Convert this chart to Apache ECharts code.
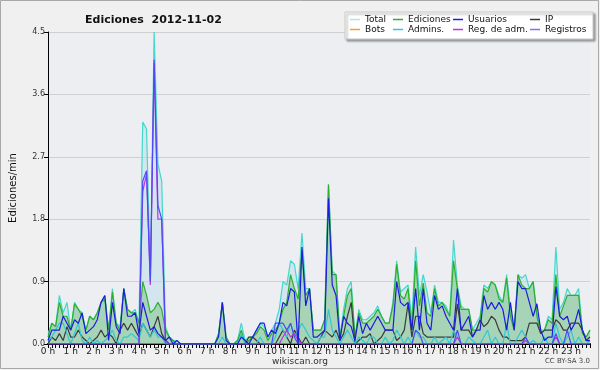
<!DOCTYPE html>
<html>
<head>
<meta charset="utf-8">
<script src="https://cdn.jsdelivr.net/npm/echarts@6/dist/echarts.min.js"></script>
<style>
  html, body { margin: 0; padding: 0; background: #f0f0f0; }
  #chart { width: 600px; height: 370px; }
</style>
</head>
<body>
<div id="chart"></div>
<script>
// one value every 10 minutes, 6 per hour (one line per hour)
const hourLabels = ['0 h', '1 h', '2 h', '3 h', '4 h', '5 h', '6 h', '7 h', '8 h', '9 h', '10 h', '11 h',
  '12 h', '13 h', '14 h', '15 h', '16 h', '17 h', '18 h', '19 h', '20 h', '21 h', '22 h', '23 h'];

const total = [
  0.15, 0.3, 0.25, 0.7, 0.45, 0.6,
  0.2, 0.6, 0.5, 0.45, 0.2, 0.4,
  0.35, 0.45, 0.6, 0.7, 0.2, 0.8,
  0.3, 0.25, 0.8, 0.5, 0.45, 0.5,
  0.3, 3.2, 3.1, 1.0, 4.5, 2.6,
  2.35, 0.25, 0.1, 0.05, 0.05, 0,
  0, 0, 0, 0, 0, 0,
  0, 0, 0, 0.15, 0.6, 0.1,
  0, 0, 0.05, 0.3, 0.05, 0.1,
  0.1, 0.2, 0.3, 0.25, 0.1, 0.2,
  0.3, 0.5, 0.9, 0.85, 1.2, 1.15,
  0.8, 1.6, 0.8, 0.8, 0.2, 0.2,
  0.2, 0.35, 2.3, 1.05, 1.0, 0.1,
  0.5, 0.8, 0.9, 0.1, 0.5, 0.35,
  0.35, 0.4, 0.45, 0.55, 0.4, 0.3,
  0.3, 0.6, 1.2, 0.75, 0.8, 0.85,
  0.35, 1.4, 0.7, 1.0, 0.75, 0.45,
  0.85, 0.6, 0.6, 0.55, 0.4, 1.5,
  0.85, 0.55, 0.5, 0.5, 0.2, 0.3,
  0.4, 0.85, 0.8, 0.9, 0.85, 0.7,
  0.6, 1.0, 0.5, 0.2, 1.0, 0.95,
  1.0, 0.8, 0.9, 0.45, 0.2, 0.2,
  0.4, 0.35, 1.4, 0.5, 0.6, 0.8,
  0.7, 0.7, 0.8, 0.2, 0.1, 0.2
];

const ediciones = [
  0.1, 0.3, 0.25, 0.6, 0.4, 0.4,
  0.2, 0.58, 0.5, 0.4, 0.2, 0.4,
  0.35, 0.45, 0.6, 0.65, 0.2, 0.75,
  0.3, 0.2, 0.8, 0.5, 0.45, 0.45,
  0.3, 0.9, 0.7, 0.45, 0.5, 0.6,
  0.5, 0.2, 0.1, 0.05, 0, 0,
  0, 0, 0, 0, 0, 0,
  0, 0, 0, 0.15, 0.6, 0.1,
  0, 0, 0.05, 0.2, 0, 0.05,
  0.1, 0.15, 0.25, 0.2, 0.05, 0.15,
  0.2, 0.3, 0.5, 0.6, 1.0, 0.8,
  0.65, 1.35, 0.7, 0.8, 0.2, 0.2,
  0.2, 0.35, 2.3, 1.0, 1.0, 0.1,
  0.4, 0.7, 0.8, 0.1, 0.45, 0.3,
  0.3, 0.35, 0.4, 0.5, 0.4, 0.3,
  0.3, 0.55, 1.15, 0.7, 0.65, 0.8,
  0.2, 1.2, 0.55, 0.88, 0.45, 0.4,
  0.8, 0.55, 0.6, 0.5, 0.4, 1.2,
  0.8, 0.5, 0.5, 0.5, 0.2, 0.2,
  0.35, 0.8, 0.75, 0.9, 0.85, 0.65,
  0.6, 0.95, 0.4, 0.2, 1.0, 0.85,
  0.8, 0.8, 0.9, 0.4, 0.15, 0.2,
  0.35, 0.3, 1.0, 0.4, 0.55, 0.7,
  0.7, 0.7, 0.7, 0.15, 0.1, 0.2
];

const usuarios = [
  0.05, 0.2, 0.2, 0.2, 0.4, 0.3,
  0.2, 0.35, 0.3, 0.45, 0.15, 0.2,
  0.25, 0.35, 0.6, 0.7, 0.05, 0.6,
  0.25, 0.15, 0.8, 0.4, 0.4, 0.45,
  0.15, 0.6, 0.4, 0.2, 0.25, 0.15,
  0.1, 0.05, 0.1, 0, 0.05, 0,
  0, 0, 0, 0, 0, 0,
  0, 0, 0, 0.1, 0.6, 0.05,
  0, 0, 0, 0.1, 0.05, 0,
  0.1, 0.2, 0.3, 0.3, 0.1, 0.2,
  0.15, 0.3, 0.6, 0.55, 0.8, 0.75,
  0, 1.4, 0.55, 0.8, 0.1, 0.1,
  0.15, 0.2, 2.1, 0.85, 0.7, 0.05,
  0.4, 0.3, 0.25, 0.05, 0.4, 0.15,
  0.3, 0.2, 0.3, 0.4, 0.3, 0.2,
  0.2, 0.2, 0.9, 0.6, 0.55, 0.6,
  0.2, 0.8, 0.2, 0.8, 0.3, 0.2,
  0.7, 0.5, 0.55, 0.4, 0.3, 0.2,
  0.8, 0.2, 0.3, 0.4, 0.1, 0.2,
  0.2, 0.7, 0.5, 0.6, 0.5, 0.6,
  0.5, 0.2, 0.6, 0.2, 0.9, 0.8,
  0.8, 0.6, 0.4, 0.58, 0.2, 0.05,
  0.1, 0.1, 0.83, 0.4, 0.35, 0.4,
  0.2, 0.3, 0.5, 0.2, 0.05, 0.05
];

const ip = [
  0, 0.1, 0.05, 0.15, 0.05, 0.25,
  0.1, 0.1, 0.2, 0.1, 0.05, 0,
  0.05, 0.1, 0.2, 0.1, 0.15, 0.1,
  0, 0.2, 0.3, 0.2, 0.3, 0.2,
  0.1, 0.3, 0.2, 0.1, 0.25, 0.4,
  0.15, 0.05, 0, 0, 0, 0,
  0, 0, 0, 0, 0, 0,
  0, 0, 0, 0, 0, 0,
  0, 0, 0, 0, 0, 0.1,
  0.1, 0.05, 0, 0, 0, 0,
  0, 0.1, 0.2, 0.1, 0, 0.2,
  0.1, 0, 0.1, 0, 0, 0,
  0.1, 0.2, 0.15, 0.1, 0.2, 0.05,
  0.15, 0.4, 0.6, 0, 0.05, 0.1,
  0.1, 0.15, 0, 0.05, 0.1, 0.2,
  0.2, 0.2, 0.05, 0.1, 0.2, 0.58,
  0.1, 0.4, 0.4, 0.15, 0.1, 0.1,
  0.1, 0.1, 0.1, 0.1, 0.1, 0.1,
  0.58, 0.2, 0.2, 0.2, 0.1, 0.2,
  0.35, 0.25, 0.3, 0.4, 0.35, 0.2,
  0.1, 0.1, 0.05, 0.05, 0.05, 0.05,
  0.1, 0.3, 0.3, 0.3, 0.15, 0.2,
  0.2, 0.2, 0.35, 0.3, 0.2, 0.2,
  0.3, 0.3, 0.3, 0.2, 0.05, 0.1
];

const admins = [
  0.05, 0.1, 0.2, 0.3, 0.3, 0.15,
  0, 0.15, 0.3, 0.05, 0, 0.1,
  0, 0.05, 0, 0.05, 0.1, 0.2,
  0.05, 0, 0.1, 0.1, 0.15, 0.1,
  0.05, 0.3, 0.2, 0.1, 0.2, 0.1,
  0.1, 0, 0, 0, 0, 0,
  0, 0, 0, 0, 0, 0,
  0, 0, 0, 0, 0.1, 0,
  0, 0, 0, 0.15, 0, 0,
  0, 0, 0.1, 0, 0, 0,
  0.1, 0.3, 0.2, 0.1, 0.3, 0.1,
  0.2, 0.3, 0.2, 0.1, 0.05, 0,
  0.1, 0.1, 0.5, 0.2, 0.1, 0,
  0.1, 0.2, 0.1, 0, 0.1, 0.05,
  0, 0.1, 0.1, 0, 0, 0.1,
  0, 0.05, 0.2, 0.1, 0, 0.1,
  0, 0.2, 0.1, 0.1, 0, 0,
  0.1, 0, 0.05, 0.1, 0, 0.2,
  0.1, 0, 0, 0.1, 0.05, 0,
  0, 0.1, 0.2, 0, 0.1, 0,
  0, 0.3, 0, 0, 0.1, 0.2,
  0.1, 0, 0.05, 0, 0, 0.1,
  0, 0, 0.3, 0.1, 0, 0.1,
  0.2, 0, 0.1, 0, 0, 0.05
];

const regAdm = [
  0, 0, 0, 0, 0, 0,
  0, 0, 0, 0, 0, 0,
  0, 0, 0, 0, 0, 0,
  0, 0, 0, 0, 0, 0,
  0, 2.2, 2.45, 0.85, 4.05, 1.8,
  1.8, 0, 0, 0, 0, 0,
  0, 0, 0, 0, 0, 0,
  0, 0, 0, 0, 0, 0,
  0, 0, 0, 0, 0, 0,
  0, 0, 0, 0, 0, 0,
  0, 0, 0.1, 0.2, 0.1, 0.15,
  0.05, 0, 0, 0, 0, 0,
  0, 0, 0, 0, 0, 0,
  0, 0, 0, 0, 0, 0,
  0, 0, 0, 0, 0, 0,
  0, 0, 0, 0, 0, 0,
  0, 0, 0, 0, 0, 0,
  0, 0, 0, 0, 0, 0,
  0.1, 0, 0, 0, 0, 0,
  0, 0, 0, 0, 0, 0,
  0, 0, 0, 0, 0, 0,
  0.05, 0, 0, 0, 0, 0,
  0, 0, 0.1, 0, 0, 0,
  0, 0, 0, 0, 0, 0
];

const registros = [
  0, 0, 0, 0, 0, 0,
  0, 0, 0, 0, 0, 0,
  0, 0, 0, 0, 0, 0,
  0, 0, 0, 0, 0, 0,
  0, 2.35, 2.5, 0.9, 4.1, 2.0,
  1.8, 0.05, 0, 0, 0, 0,
  0, 0, 0, 0, 0, 0,
  0, 0, 0, 0, 0, 0,
  0, 0, 0, 0, 0, 0,
  0, 0, 0, 0, 0, 0,
  0.3, 0.3, 0.3, 0.2, 0.3, 0.1,
  0, 0, 0, 0, 0, 0,
  0, 0, 0, 0, 0, 0,
  0, 0, 0, 0, 0, 0,
  0, 0, 0, 0, 0, 0,
  0, 0, 0, 0, 0, 0,
  0, 0.2, 0.15, 0, 0, 0,
  0, 0, 0, 0, 0, 0,
  0.2, 0, 0, 0, 0, 0,
  0, 0, 0, 0, 0, 0,
  0, 0, 0, 0, 0, 0,
  0.1, 0, 0, 0, 0, 0,
  0, 0, 0.15, 0, 0, 0.2,
  0, 0, 0, 0, 0, 0
];

const bots = [];

const slots = [];
for (let h = 0; h < 24; h++) {
  for (let m = 0; m < 60; m += 10) slots.push(h + ':' + (m < 10 ? '0' : '') + m);
}

const FONT = 'DejaVu Sans';

const lineSeries = (name, data, color, z) => ({
  name, type: 'line', data, symbol: 'none', z,
  lineStyle: { color, width: 1.2 },
  itemStyle: { color },
  emphasis: { disabled: true }
});

const legendBox = (left, names) => ({
  left, top: 15, orient: 'vertical', itemGap: 1, z: 10, padding: 0,
  itemWidth: 10, itemHeight: 1.5, icon: 'rect',
  selectedMode: false,
  textStyle: { fontFamily: FONT, fontSize: 9, color: '#111' },
  data: names
});

const chart = echarts.init(document.getElementById('chart'), null, { renderer: 'canvas' });

chart.setOption({
  backgroundColor: '#f0f0f0',
  animation: false,
  title: {
    text: 'Ediciones  2012-11-02',
    left: 80, top: 10,
    textStyle: { fontFamily: FONT, fontSize: 11, fontWeight: 'bold', color: '#111' }
  },
  legend: [
    legendBox(350, [{ name: 'Total', itemStyle: { color: '#aee6e0' } }, { name: 'Bots' }]),
    legendBox(393, ['Ediciones', 'Admins.']),
    legendBox(453, ['Usuarios', 'Reg. de adm.']),
    legendBox(530, ['IP', { name: 'Registros', itemStyle: { color: '#7a7af0' } }])
  ],
  graphic: [
    {
      type: 'rect', z: -1, silent: true,
      shape: { x: 0.5, y: 0.5, width: 598, height: 368 },
      style: { fill: 'none', stroke: '#a8a8a8', lineWidth: 1 }
    },
    {
      type: 'rect', z: 1, silent: true,
      shape: { x: 345, y: 12, width: 248, height: 27 },
      style: { fill: '#ffffff', stroke: '#c8c8c8', lineWidth: 1,
        shadowColor: 'rgba(0,0,0,0.35)', shadowOffsetX: 2, shadowOffsetY: 2, shadowBlur: 2 }
    },
    {
      type: 'text', left: 'center', top: 357, silent: true,
      style: { text: 'wikiscan.org', font: '9px "DejaVu Sans"', fill: '#333' }
    },
    {
      type: 'text', right: 10, top: 358, silent: true,
      style: { text: 'CC BY-SA 3.0', font: '7px "DejaVu Sans"', fill: '#444' }
    }
  ],
  grid: {
    left: 45, right: 10, top: 32, bottom: 26,
    show: true, backgroundColor: '#eceef1', borderWidth: 0
  },
  xAxis: {
    type: 'category',
    data: slots,
    boundaryGap: false,
    axisLine: { lineStyle: { color: '#000', width: 2 } },
    axisTick: { interval: 0, length: 4, lineStyle: { color: '#000' } },
    axisLabel: {
      interval: 0,
      margin: 3,
      fontFamily: FONT, fontSize: 9, color: '#222',
      formatter: (v, i) => (i % 6 === 0 ? hourLabels[i / 6] : '')
    },
    splitLine: { show: false }
  },
  yAxis: {
    type: 'value',
    min: 0, max: 4.5, interval: 0.9,
    name: 'Ediciones/min',
    nameLocation: 'middle',
    nameGap: 30,
    nameTextStyle: { fontFamily: FONT, fontSize: 10, color: '#111' },
    axisLine: { show: true, lineStyle: { color: '#000' } },
    axisTick: { show: true, length: 4, lineStyle: { color: '#000' } },
    axisLabel: { fontFamily: FONT, fontSize: 8, color: '#333', margin: 3,
      formatter: (v) => v.toFixed(1) },
    splitLine: { lineStyle: { color: '#cfcfcf' } }
  },
  series: [
    Object.assign(lineSeries('Total', total, '#44d8cc', 2), {
      areaStyle: { color: 'rgba(185,220,234,0.7)' }
    }),
    Object.assign(lineSeries('Ediciones', ediciones, '#2eae2e', 3), {
      areaStyle: { color: 'rgba(110,190,110,0.62)' }
    }),
    lineSeries('Bots', bots, '#f0a030', 4),
    lineSeries('IP', ip, '#3a3a3a', 4),
    lineSeries('Admins.', admins, '#30c8d8', 4),
    lineSeries('Reg. de adm.', regAdm, '#c030e0', 4),
    lineSeries('Registros', registros, '#4a4af8', 5),
    lineSeries('Usuarios', usuarios, '#1c1ce0', 5)
  ]
});
</script>
</body>
</html>
